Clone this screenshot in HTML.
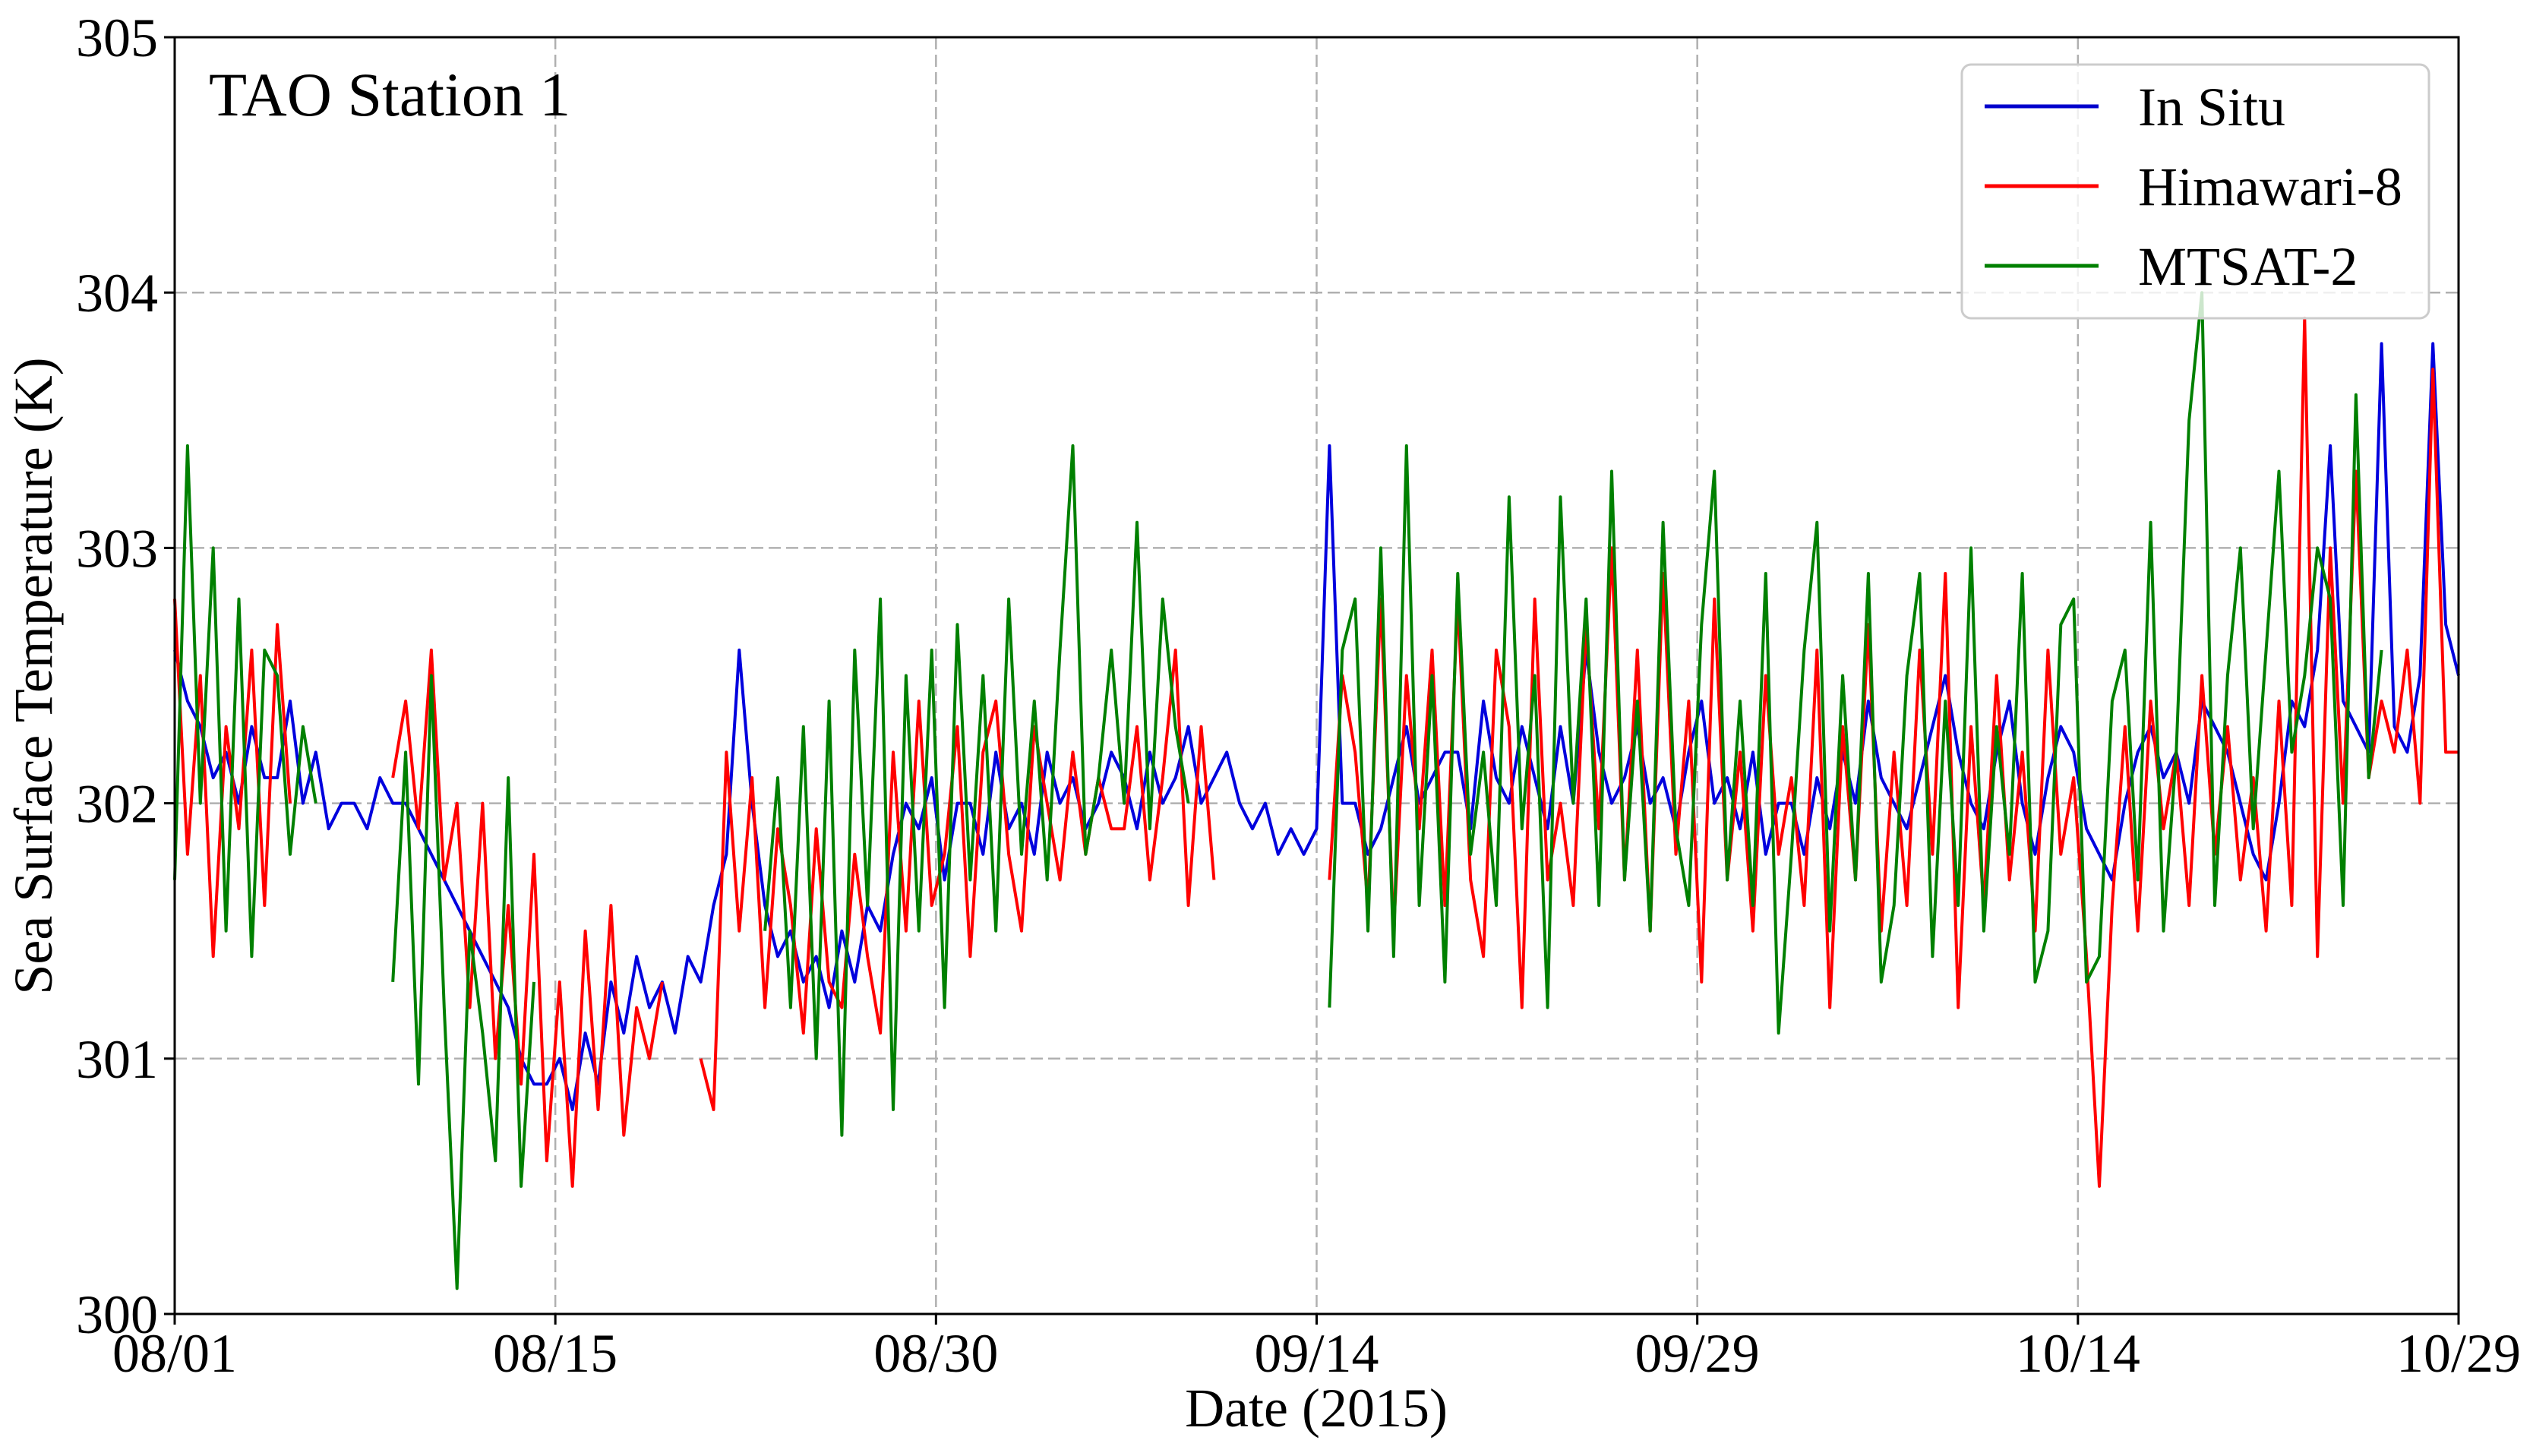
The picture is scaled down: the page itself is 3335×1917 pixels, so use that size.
<!DOCTYPE html>
<html><head><meta charset="utf-8">
<style>
html,body{margin:0;padding:0;background:#fff;}
svg{display:block;font-family:"Liberation Serif",serif;}
</style></head>
<body>
<svg id="chart" width="3335" height="1917" viewBox="0 0 3335 1917" xmlns="http://www.w3.org/2000/svg">
<rect width="3335" height="1917" fill="#fff"/>
<g id="grid"></g>
<g id="series"></g>
<rect x="230" y="49" width="3007" height="1681" fill="none" stroke="#000" stroke-width="3"/>
<g id="ticks"></g>
<text x="275" y="152" font-size="82">TAO Station 1</text>
<text x="1733" y="1878" font-size="72" text-anchor="middle">Date (2015)</text>
<text transform="translate(68,890) rotate(-90)" font-size="72" text-anchor="middle">Sea Surface Temperature (K)</text>
<g>
<rect x="2583" y="85" width="615" height="334" rx="12" fill="#fff" fill-opacity="0.8" stroke="#ccc" stroke-width="3"/>
<g><line x1="2613" y1="140" x2="2763" y2="140" stroke="#0000cc" stroke-width="5"/><text x="2815" y="165" font-size="72">In Situ</text></g>
<g><line x1="2613" y1="245" x2="2763" y2="245" stroke="#ff0000" stroke-width="5"/><text x="2815" y="270" font-size="72">Himawari-8</text></g>
<g><line x1="2613" y1="350" x2="2763" y2="350" stroke="#008000" stroke-width="5"/><text x="2815" y="375" font-size="72">MTSAT-2</text></g>
</g>
</svg>
<script>
const xTickLabels=["08/01","08/15","08/30","09/14","09/29","10/14","10/29"];
const xTickDays=[0,15,30,45,60,75,90];
const yTicks=[300,301,302,303,304,305];
const inSitu=[302.6,302.4,302.3,302.1,302.2,302.0,302.3,302.1,302.1,302.4,302.0,302.2,301.9,302.0,302.0,301.9,302.1,302.0,302.0,301.9,301.8,301.7,301.6,301.5,301.4,301.3,301.2,301.0,300.9,300.9,301.0,300.8,301.1,300.9,301.3,301.1,301.4,301.2,301.3,301.1,301.4,301.3,301.6,301.8,302.6,302.0,301.6,301.4,301.5,301.3,301.4,301.2,301.5,301.3,301.6,301.5,301.8,302.0,301.9,302.1,301.7,302.0,302.0,301.8,302.2,301.9,302.0,301.8,302.2,302.0,302.1,301.9,302.0,302.2,302.1,301.9,302.2,302.0,302.1,302.3,302.0,302.1,302.2,302.0,301.9,302.0,301.8,301.9,301.8,301.9,303.4,302.0,302.0,301.8,301.9,302.1,302.3,302.0,302.1,302.2,302.2,301.9,302.4,302.1,302.0,302.3,302.1,301.9,302.3,302.0,302.6,302.2,302.0,302.1,302.3,302.0,302.1,301.9,302.2,302.4,302.0,302.1,301.9,302.2,301.8,302.0,302.0,301.8,302.1,301.9,302.2,302.0,302.4,302.1,302.0,301.9,302.1,302.3,302.5,302.2,302.0,301.9,302.2,302.4,302.0,301.8,302.1,302.3,302.2,301.9,301.8,301.7,302.0,302.2,302.3,302.1,302.2,302.0,302.4,302.3,302.2,302.0,301.8,301.7,302.0,302.4,302.3,302.6,303.4,302.4,302.3,302.2,303.8,302.3,302.2,302.5,303.8,302.7,302.5];
const himawari=[302.8,301.8,302.5,301.4,302.3,301.9,302.6,301.6,302.7,302.0,null,null,null,null,null,null,null,302.1,302.4,301.9,302.6,301.7,302.0,301.2,302.0,301.0,301.6,300.9,301.8,300.6,301.3,300.5,301.5,300.8,301.6,300.7,301.2,301.0,301.3,null,null,301.0,300.8,302.2,301.5,302.1,301.2,301.9,301.6,301.1,301.9,301.3,301.2,301.8,301.4,301.1,302.2,301.5,302.4,301.6,301.8,302.3,301.4,302.2,302.4,301.8,301.5,302.3,302.0,301.7,302.2,301.8,302.1,301.9,301.9,302.3,301.7,302.1,302.6,301.6,302.3,301.7,null,null,null,null,null,null,null,null,301.7,302.5,302.2,301.6,302.8,301.5,302.5,301.9,302.6,301.6,302.8,301.7,301.4,302.6,302.3,301.2,302.8,301.7,302.0,301.6,302.7,301.9,303.0,301.7,302.6,301.5,302.9,301.8,302.4,301.3,302.8,301.7,302.2,301.5,302.5,301.8,302.1,301.6,302.6,301.2,302.3,301.7,302.7,301.5,302.2,301.6,302.6,301.8,302.9,301.2,302.3,301.6,302.5,301.7,302.2,301.5,302.6,301.8,302.1,301.4,300.5,301.6,302.3,301.5,302.4,301.9,302.2,301.6,302.5,301.8,302.3,301.7,302.1,301.5,302.4,301.6,303.9,301.4,303.0,302.0,303.3,302.1,302.4,302.2,302.6,302.0,303.7,302.2,302.2];
const mtsat=[301.7,303.4,302.0,303.0,301.5,302.8,301.4,302.6,302.5,301.8,302.3,302.0,null,null,null,null,null,301.3,302.2,300.9,302.5,301.2,300.1,301.5,301.1,300.6,302.1,300.5,301.3,null,null,null,null,null,null,null,302.5,null,302.4,null,null,null,null,null,null,null,301.5,302.1,301.2,302.3,301.0,302.4,300.7,302.6,301.6,302.8,300.8,302.5,301.5,302.6,301.2,302.7,301.7,302.5,301.5,302.8,301.8,302.4,301.7,302.6,303.4,301.8,302.1,302.6,302.0,303.1,301.9,302.8,302.3,302.0,null,null,null,null,null,null,null,null,null,null,301.2,302.6,302.8,301.5,303.0,301.4,303.4,301.6,302.5,301.3,302.9,301.8,302.2,301.6,303.2,301.9,302.5,301.2,303.2,302.0,302.8,301.6,303.3,301.7,302.4,301.5,303.1,301.9,301.6,302.7,303.3,301.7,302.4,301.6,302.9,301.1,301.8,302.6,303.1,301.5,302.5,301.7,302.9,301.3,301.6,302.5,302.9,301.4,302.4,301.6,303.0,301.5,302.3,301.8,302.9,301.3,301.5,302.7,302.8,301.3,301.4,302.4,302.6,301.7,303.1,301.5,302.2,303.5,304.0,301.6,302.5,303.0,301.9,302.6,303.3,302.2,302.5,303.0,302.8,301.6,303.6,302.1,302.6,null,null,null,null,null,null];
const X0=230,X1=3237,Y0=1730,Y1=49,DMAX=90,YMIN=300,YMAX=305;
const xs=d=>X0+(X1-X0)*d/DMAX;
const ys=v=>Y0-(Y0-Y1)*(v-YMIN)/(YMAX-YMIN);
const NS="http://www.w3.org/2000/svg";
const grid=document.getElementById('grid'),ticks=document.getElementById('ticks'),ser=document.getElementById('series');
function mk(tag,attrs,parent){const e=document.createElementNS(NS,tag);for(const k in attrs)e.setAttribute(k,attrs[k]);parent.appendChild(e);return e;}
xTickDays.forEach((d,i)=>{
  const x=xs(d);
  if(i>0&&i<xTickDays.length-1){const g=mk('line',{x1:x,y1:Y1,x2:x,y2:Y0,stroke:'#b0b0b0','stroke-width':2.5,'stroke-dasharray':'16,7'},grid);
  
  }
  const t=mk('line',{x1:x,y1:Y0,x2:x,y2:Y0+14,stroke:'#000','stroke-width':3},ticks);
  
  
  const l=mk('text',{x:x,y:Y0+76,'font-size':72,'text-anchor':'middle'},ticks);
  l.textContent=xTickLabels[i];
  
  
});
yTicks.forEach((v,i)=>{
  const y=ys(v);
  if(i>0&&i<yTicks.length-1){const g=mk('line',{x1:X0,y1:y,x2:X1,y2:y,stroke:'#b0b0b0','stroke-width':2.5,'stroke-dasharray':'16,7'},grid);
  
  }
  const t=mk('line',{x1:X0-14,y1:y,x2:X0,y2:y,stroke:'#000','stroke-width':3},ticks);
  
  
  const l=mk('text',{x:X0-22,y:y+25,'font-size':72,'text-anchor':'end'},ticks);
  l.textContent=String(v);
  
  
});
function draw(arr,color,name){
  let d='',pen=false;
  const n=arr.length;
  arr.forEach((v,i)=>{
    if(v===null){pen=false;return;}
    const x=xs(i*DMAX/(n-1)).toFixed(1),y=ys(v).toFixed(1);
    d+=(pen?'L':'M')+x+','+y;pen=true;
  });
  const p=mk('path',{d:d,fill:'none',stroke:color,'stroke-width':4,'stroke-linejoin':'round'},ser);
  
  
}
draw(inSitu,'#0000dd','in-situ-line');
draw(himawari,'#ff0000','himawari-8-line');
draw(mtsat,'#008000','mtsat-2-line');
</script>
</body></html>
